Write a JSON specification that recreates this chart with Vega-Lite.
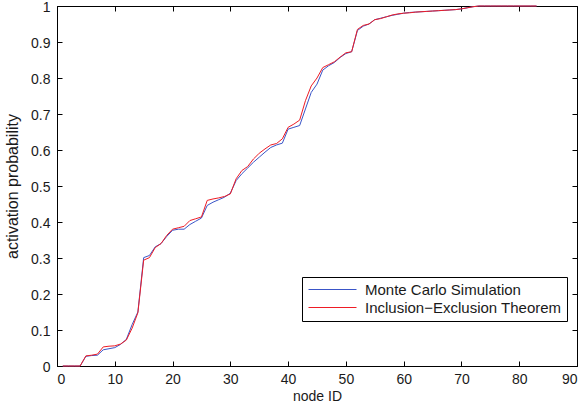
{
  "$schema": "https://vega.github.io/schema/vega-lite/v6.json",
  "width": 520,
  "height": 360,
  "autosize": {"type": "none"},
  "padding": {"left": 57, "top": 6, "right": 10, "bottom": 41},
  "background": "white",
  "config": {
    "view": {"stroke": "black", "strokeWidth": 1},
    "axis": {
      "grid": false,
      "domainColor": "black",
      "tickColor": "black",
      "labelColor": "#1a1a1a",
      "labelFont": "Liberation Sans",
      "labelFontSize": 14,
      "titleFont": "Liberation Sans",
      "titleFontWeight": "normal",
      "titleColor": "#1a1a1a",
      "tickSize": -5
    },
    "legend": {
      "orient": "none",
      "legendX": 245,
      "legendY": 271,
      "strokeColor": "black",
      "fillColor": "white",
      "padding": 5,
      "symbolType": "M-1,0H7",
      "symbolSize": 144,
      "symbolStrokeWidth": 1.2,
      "labelFont": "Liberation Sans",
      "labelFontSize": 15,
      "labelColor": "#1a1a1a",
      "labelOffset": 43,
      "labelLimit": 400,
      "rowPadding": 2,
      "cornerRadius": 0
    }
  },
  "data": {
    "values": [
      {"node": 1, "mc": 0, "ie": 0},
      {"node": 2, "mc": 0, "ie": 0},
      {"node": 3, "mc": 0, "ie": 0},
      {"node": 4, "mc": 0, "ie": 0},
      {"node": 5, "mc": 0.027, "ie": 0.028},
      {"node": 6, "mc": 0.029, "ie": 0.030},
      {"node": 7, "mc": 0.030, "ie": 0.033},
      {"node": 8, "mc": 0.045, "ie": 0.053},
      {"node": 9, "mc": 0.048, "ie": 0.055},
      {"node": 10, "mc": 0.051, "ie": 0.056},
      {"node": 11, "mc": 0.060, "ie": 0.061},
      {"node": 12, "mc": 0.074, "ie": 0.072},
      {"node": 13, "mc": 0.115, "ie": 0.105},
      {"node": 14, "mc": 0.150, "ie": 0.148},
      {"node": 15, "mc": 0.301, "ie": 0.294},
      {"node": 16, "mc": 0.307, "ie": 0.301},
      {"node": 17, "mc": 0.331, "ie": 0.329},
      {"node": 18, "mc": 0.340, "ie": 0.340},
      {"node": 19, "mc": 0.360, "ie": 0.363},
      {"node": 20, "mc": 0.377, "ie": 0.380},
      {"node": 21, "mc": 0.380, "ie": 0.384},
      {"node": 22, "mc": 0.380, "ie": 0.388},
      {"node": 23, "mc": 0.393, "ie": 0.404},
      {"node": 24, "mc": 0.402, "ie": 0.409},
      {"node": 25, "mc": 0.411, "ie": 0.414},
      {"node": 26, "mc": 0.446, "ie": 0.460},
      {"node": 27, "mc": 0.455, "ie": 0.464},
      {"node": 28, "mc": 0.462, "ie": 0.467},
      {"node": 29, "mc": 0.469, "ie": 0.471},
      {"node": 30, "mc": 0.480, "ie": 0.478},
      {"node": 31, "mc": 0.515, "ie": 0.520},
      {"node": 32, "mc": 0.534, "ie": 0.543},
      {"node": 33, "mc": 0.550, "ie": 0.554},
      {"node": 34, "mc": 0.566, "ie": 0.575},
      {"node": 35, "mc": 0.580, "ie": 0.591},
      {"node": 36, "mc": 0.594, "ie": 0.603},
      {"node": 37, "mc": 0.607, "ie": 0.614},
      {"node": 38, "mc": 0.614, "ie": 0.618},
      {"node": 39, "mc": 0.619, "ie": 0.631},
      {"node": 40, "mc": 0.658, "ie": 0.663},
      {"node": 41, "mc": 0.663, "ie": 0.672},
      {"node": 42, "mc": 0.668, "ie": 0.683},
      {"node": 43, "mc": 0.714, "ie": 0.737},
      {"node": 44, "mc": 0.760, "ie": 0.778},
      {"node": 45, "mc": 0.783, "ie": 0.800},
      {"node": 46, "mc": 0.822, "ie": 0.829},
      {"node": 47, "mc": 0.834, "ie": 0.837},
      {"node": 48, "mc": 0.843, "ie": 0.845},
      {"node": 49, "mc": 0.857, "ie": 0.858},
      {"node": 50, "mc": 0.868, "ie": 0.870},
      {"node": 51, "mc": 0.873, "ie": 0.873},
      {"node": 52, "mc": 0.932, "ie": 0.935},
      {"node": 53, "mc": 0.944, "ie": 0.946},
      {"node": 54, "mc": 0.950, "ie": 0.950},
      {"node": 55, "mc": 0.962, "ie": 0.962},
      {"node": 56, "mc": 0.966, "ie": 0.965},
      {"node": 57, "mc": 0.970, "ie": 0.970},
      {"node": 58, "mc": 0.974, "ie": 0.975},
      {"node": 59, "mc": 0.977, "ie": 0.978},
      {"node": 60, "mc": 0.980, "ie": 0.980},
      {"node": 61, "mc": 0.982, "ie": 0.981},
      {"node": 62, "mc": 0.983, "ie": 0.983},
      {"node": 63, "mc": 0.984, "ie": 0.984},
      {"node": 64, "mc": 0.985, "ie": 0.985},
      {"node": 65, "mc": 0.986, "ie": 0.986},
      {"node": 66, "mc": 0.987, "ie": 0.987},
      {"node": 67, "mc": 0.988, "ie": 0.988},
      {"node": 68, "mc": 0.989, "ie": 0.989},
      {"node": 69, "mc": 0.990, "ie": 0.990},
      {"node": 70, "mc": 0.992, "ie": 0.992},
      {"node": 71, "mc": 0.995, "ie": 0.995},
      {"node": 72, "mc": 0.998, "ie": 0.998},
      {"node": 73, "mc": 1, "ie": 1},
      {"node": 74, "mc": 1, "ie": 1},
      {"node": 75, "mc": 1, "ie": 1},
      {"node": 76, "mc": 1, "ie": 1},
      {"node": 77, "mc": 1, "ie": 1},
      {"node": 78, "mc": 1, "ie": 1},
      {"node": 79, "mc": 1, "ie": 1},
      {"node": 80, "mc": 1, "ie": 1},
      {"node": 81, "mc": 1, "ie": 1},
      {"node": 82, "mc": 1, "ie": 1},
      {"node": 83, "mc": 1, "ie": 1}
    ]
  },
  "transform": [{"fold": ["mc", "ie"], "as": ["method", "p"]}],
  "layer": [
    {
      "mark": {"type": "line", "strokeOpacity": 0},
      "encoding": {
        "x": {"field": "node", "type": "quantitative", "scale": {"domain": [0, 90], "nice": false, "zero": false},
          "axis": {"orient": "top", "values": [0,10,20,30,40,50,60,70,80,90], "labels": false, "title": null, "domain": false}},
        "y": {"field": "p", "type": "quantitative", "scale": {"domain": [0, 1], "nice": false},
          "axis": {"orient": "right", "values": [0,0.1,0.2,0.3,0.4,0.5,0.6,0.7,0.8,0.9,1], "labels": false, "title": null, "domain": false}},
        "detail": {"field": "method"}
      }
    },
    {
      "mark": {"type": "line", "strokeWidth": 1},
      "encoding": {
        "x": {"field": "node", "type": "quantitative", "scale": {"domain": [0, 90], "nice": false, "zero": false},
          "axis": {"orient": "bottom", "values": [0,10,20,30,40,50,60,70,80,90], "title": "node ID", "titleFontSize": 14, "labelPadding": 11, "titlePadding": 3}},
        "y": {"field": "p", "type": "quantitative", "scale": {"domain": [0, 1], "nice": false},
          "axis": {"orient": "left", "values": [0,0.1,0.2,0.3,0.4,0.5,0.6,0.7,0.8,0.9,1], "format": "~g", "labelOffset": 1.5, "title": "activation probability", "titleFontSize": 16, "labelPadding": 12, "titlePadding": 10}},
        "color": {"field": "method", "type": "nominal",
          "scale": {"domain": ["mc", "ie"], "range": ["#3a55c8", "#ee1c25"]},
          "legend": {"title": null, "labelExpr": "datum.label == 'mc' ? 'Monte Carlo Simulation' : 'Inclusion−Exclusion Theorem'"}}
      }
    }
  ],
  "resolve": {"axis": {"x": "independent", "y": "independent"}}
}
